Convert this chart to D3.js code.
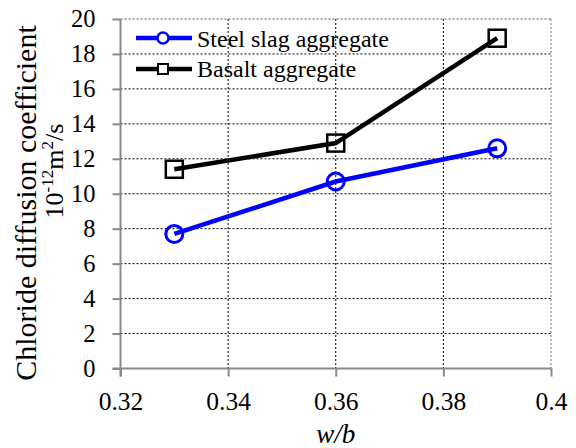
<!DOCTYPE html>
<html>
<head>
<meta charset="utf-8">
<script src="https://d3js.org/d3.v7.min.js"></script>
</head>
<body style="margin:0;background:#fff">
<div id="chart"></div>
<script>
// data
var wb = [0.33, 0.36, 0.39];
var steelSlag = [7.7, 10.7, 12.6];
var basalt = [11.4, 12.9, 18.9];
var xTicks = [0.32, 0.34, 0.36, 0.38, 0.4];
var yTicks = [0, 2, 4, 6, 8, 10, 12, 14, 16, 18, 20];

var FONT = "Liberation Serif";
var W = 576, H = 448;
var margin = {top: 19, right: 25, bottom: 79.5, left: 120.5};
var width = W - margin.left - margin.right,
    height = H - margin.top - margin.bottom;

var svg = d3.select("#chart").append("svg")
    .attr("width", W).attr("height", H)
    .attr("font-family", FONT);
var g = svg.append("g")
    .attr("transform", "translate(" + margin.left + "," + margin.top + ")");

var x = d3.scaleLinear().domain([0.32, 0.4]).range([0, width]);
var y = d3.scaleLinear().domain([0, 20]).range([height, 0]);

// grid (dotted)
g.append("g").selectAll("line").data(yTicks.slice(1))
  .enter().append("line")
    .attr("x1", 0).attr("x2", width)
    .attr("y1", function(d) { return y(d); }).attr("y2", function(d) { return y(d); })
    .attr("stroke", function(d) { return d == 20 ? "#555" : "#000"; })
    .attr("stroke-width", 1).attr("stroke-dasharray", "2,2");
g.append("g").selectAll("line").data(xTicks.slice(1))
  .enter().append("line")
    .attr("x1", function(d) { return x(d); }).attr("x2", function(d) { return x(d); })
    .attr("y1", 0).attr("y2", height)
    .attr("stroke", function(d, i) { return i == 3 ? "#777" : "#000"; })
    .attr("stroke-width", 1).attr("stroke-dasharray", "2,2");

// axes
var yAxis = g.append("g").call(d3.axisLeft(y).tickValues(yTicks).tickSize(8).tickPadding(17));
var xAxis = g.append("g").attr("transform", "translate(0," + height + ")")
    .call(d3.axisBottom(x).tickValues(xTicks).tickSize(8).tickPadding(15)
      .tickFormat(function(d) { return d === 0.4 ? "0.4" : d3.format(".2f")(d); }));
[xAxis, yAxis].forEach(function(a, i) {
  var fs = i == 0 ? 25.5 : 24.5;
  a.attr("font-family", FONT).attr("font-size", fs);
  a.select(".domain").attr("stroke", "#888").attr("stroke-width", 2);
  a.selectAll(".tick line").attr("stroke", "#888").attr("stroke-width", 2);
  a.selectAll("text").attr("fill", "#000").attr("font-family", FONT).attr("font-size", fs);
});
xAxis.select(".domain").attr("d", "M-8,0H" + width);
yAxis.select(".domain").attr("d", "M0," + (height + 8) + "V0");

// lines
var line = d3.line().x(function(d, i) { return x(wb[i]); }).y(function(d) { return y(d); });
g.append("path").datum(steelSlag).attr("d", line)
  .attr("fill", "none").attr("stroke", "#0000ff").attr("stroke-width", 4.5);
g.append("path").datum(basalt).attr("d", line)
  .attr("fill", "none").attr("stroke", "#000").attr("stroke-width", 4.5);

g.selectAll(".ss").data(steelSlag).enter().append("circle")
  .attr("cx", function(d, i) { return x(wb[i]); })
  .attr("cy", function(d) { return y(d); })
  .attr("r", 8.5).attr("fill", "none").attr("stroke", "#0000ff").attr("stroke-width", 3);
g.selectAll(".ba").data(basalt).enter().append("rect")
  .attr("x", function(d, i) { return x(wb[i]) - 8.5; })
  .attr("y", function(d) { return y(d) - 8.5; })
  .attr("width", 17).attr("height", 17)
  .attr("fill", "none").attr("stroke", "#000").attr("stroke-width", 2.5);

// legend
var leg = svg.append("g");
leg.append("line").attr("x1", 136).attr("x2", 192).attr("y1", 38).attr("y2", 38)
  .attr("stroke", "#0000ff").attr("stroke-width", 4.5);
leg.append("circle").attr("cx", 163).attr("cy", 38).attr("r", 5.5)
  .attr("fill", "#fff").attr("stroke", "#0000ff").attr("stroke-width", 2.5);
leg.append("text").attr("x", 197).attr("y", 47)
  .attr("font-family", FONT).attr("font-size", 24).text("Steel slag aggregate");
leg.append("line").attr("x1", 136).attr("x2", 192).attr("y1", 69).attr("y2", 69)
  .attr("stroke", "#000").attr("stroke-width", 4.5);
leg.append("rect").attr("x", 158).attr("y", 64).attr("width", 10).attr("height", 10)
  .attr("fill", "#fff").attr("stroke", "#000").attr("stroke-width", 2);
leg.append("text").attr("x", 197).attr("y", 77)
  .attr("font-family", FONT).attr("font-size", 24).text("Basalt aggregate");

// axis titles
svg.append("text")
  .attr("transform", "translate(36,203) rotate(-90)")
  .attr("text-anchor", "middle").attr("font-family", FONT).attr("font-size", 30)
  .text("Chloride diffusion coefficient");
var t2 = svg.append("text")
  .attr("transform", "translate(63,171) rotate(-90)")
  .attr("text-anchor", "middle").attr("font-family", FONT).attr("font-size", 26);
t2.append("tspan").text("10");
t2.append("tspan").attr("dy", -10).attr("font-size", 17).text("-12");
t2.append("tspan").attr("dy", 10).text("m");
t2.append("tspan").attr("dy", -10).attr("font-size", 17).text("2");
t2.append("tspan").attr("dy", 10).text("/s");
svg.append("text").attr("x", margin.left + x(0.36)).attr("y", 443)
  .attr("text-anchor", "middle").attr("font-family", FONT).attr("font-size", 27)
  .attr("font-style", "italic")
  .text("w/b");
</script>
</body>
</html>
